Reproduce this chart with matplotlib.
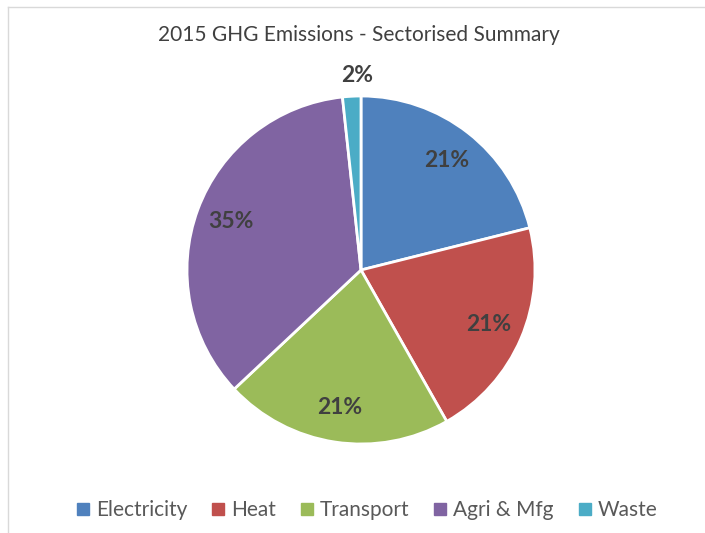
import matplotlib
matplotlib.use("Agg")
import matplotlib.pyplot as plt
from matplotlib.lines import Line2D

SECTORS = ["Electricity", "Heat", "Transport", "Agri & Mfg", "Waste"]
SHARES = [21.1, 20.7, 21.2, 35.3, 1.7]
COLOURS = ["#4F81BD", "#C0504D", "#9BBB59", "#8064A2", "#4BACC6"]
TITLE = "2015 GHG Emissions - Sectorised Summary"

plt.rcParams['font.family'] = ['Lato', 'DejaVu Sans']

W, H = 705, 533
fig = plt.figure(figsize=(W / 100, H / 100), dpi=100)

# pie centre and radius in pixels
cx, cy, r = 361, 270, 174
ax = fig.add_axes([(cx - r) / W, (H - cy - r) / H, 2 * r / W, 2 * r / H])

wedges, texts, autotexts = ax.pie(
    SHARES, colors=COLOURS, startangle=90, counterclock=False,
    autopct=lambda p: f"{p:.0f}%", pctdistance=0.8,
    wedgeprops=dict(edgecolor="white", linewidth=2),
    textprops=dict(fontsize=16.5, fontweight="bold", color="#404040"))
ax.set_xlim(-1, 1)
ax.set_ylim(-1, 1)
ax.set_aspect("equal")
ax.axis("off")

# small slice label sits just outside the pie (Excel best fit)
autotexts[-1].set_position((-0.025, 1.12))

fig.text(359 / W, 1 - 35 / H, TITLE, ha="center", va="center",
         fontsize=15, color="#404040")

# chart frame (only top and left visible in the crop)
fig.add_artist(Line2D([8 / W, 1], [1 - 7 / H, 1 - 7 / H], color="#D9D9D9", lw=1))
fig.add_artist(Line2D([8 / W, 8 / W], [0, 1 - 7 / H], color="#D9D9D9", lw=1))

handles = [Line2D([], [], marker="s", ls="", markersize=8, color=c) for c in COLOURS]
fig.legend(handles, SECTORS, loc="center", bbox_to_anchor=(366 / W, 1 - 510 / H),
           ncol=5, frameon=False, fontsize=15, labelcolor="#595959",
           handletextpad=0.2, columnspacing=1.1, handlelength=0.8)

fig.savefig("out.png", dpi=100, facecolor="white")
